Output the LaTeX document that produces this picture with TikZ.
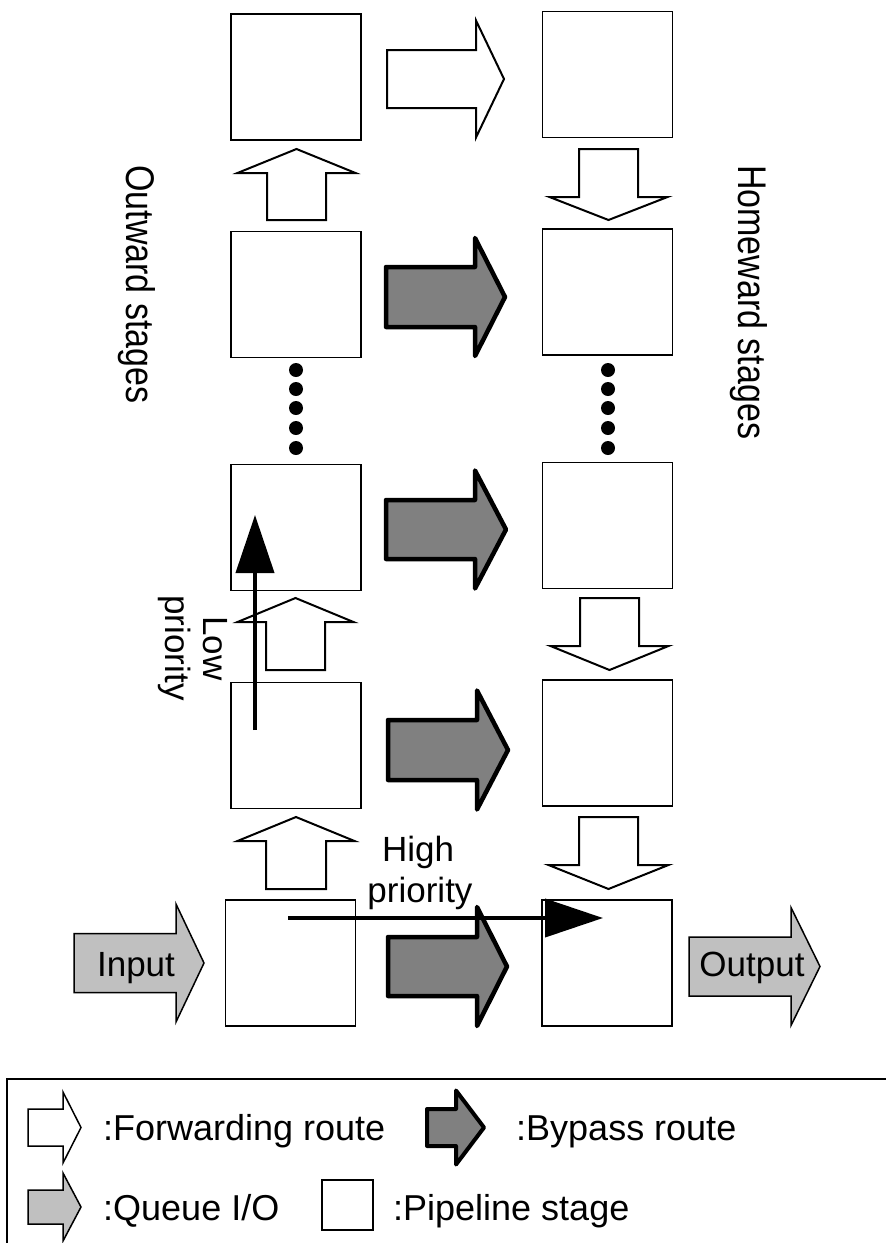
\documentclass[tikz,border=0pt]{standalone}
\usepackage{fontspec}
\usepackage{graphicx}
\setmainfont{Liberation Sans}
\usetikzlibrary{arrows.meta}
\definecolor{bypassgray}{RGB}{128,128,128}
\definecolor{queuegray}{RGB}{192,192,192}
% horizontal block arrow: style, x start, x head base, x tip, y centre, shaft half, head half
\newcommand{\blockh}[7]{\draw[#1] (#2,#5-#6) -- (#3,#5-#6) -- (#3,#5-#7) -- (#4,#5) -- (#3,#5+#7) -- (#3,#5+#6) -- (#2,#5+#6) -- cycle;}
% vertical block arrow: style, x centre, y start, y head base, y tip, shaft half, head half
\newcommand{\blockv}[7]{\draw[#1] (#2-#6,#3) -- (#2-#6,#4) -- (#2-#7,#4) -- (#2,#5) -- (#2+#7,#4) -- (#2+#6,#4) -- (#2+#6,#3) -- cycle;}
\newcommand{\narrowtext}[1]{\scalebox{0.85}[1]{#1}}
\begin{document}
\begin{tikzpicture}[x=1pt,y=-1pt,
  stage/.style={draw, line width=1.5pt, minimum width=130pt, minimum height=126pt, inner sep=0pt},
  fwd/.style={draw, fill=white, line width=2pt, line join=miter},
  fwdl/.style={draw, fill=white, line width=1.5pt, line join=miter},
  byp/.style={draw, fill=bypassgray, line width=4.5pt, line join=round},
  bypl/.style={draw, fill=bypassgray, line width=4pt, line join=round},
  qio/.style={draw, fill=queuegray, line width=1.5pt},
  prio/.style={line width=4pt, -{Triangle[length=58pt,width=38pt]}},
  lbl/.style={font=\fontsize{35}{42}\selectfont, inner sep=0pt},
  side/.style={font=\fontsize{40}{48}\selectfont, inner sep=0pt, rotate=-90, anchor=base west},
  lgd/.style={font=\fontsize{36}{43}\selectfont, inner sep=0pt, anchor=base west}]
\useasboundingbox (0,0) rectangle (886,1243);
\fill[white] (0,0) rectangle (886,1243);

% pipeline stages
\node[stage] (L1) at (296,77) {};
\node[stage] (L2) at (296,294.5) {};
\node[stage] (L3) at (296,527.5) {};
\node[stage] (L4) at (296,745.5) {};
\node[stage] (L5) at (290.5,963) {};
\node[stage] (R1) at (607.5,74.5) {};
\node[stage] (R2) at (607.5,292) {};
\node[stage] (R3) at (607.5,525.5) {};
\node[stage] (R4) at (607.5,743) {};
\node[stage] (R5) at (607,963) {};

% ellipsis dots
\foreach \yy in {370,389,408,428,448} {
  \fill (296,\yy) circle (7pt);
  \fill (608,\yy) circle (7pt);
}

% forwarding routes
\blockh{fwd}{387}{476}{504}{79}{29}{58.5}
\blockv{fwd}{296.5}{220}{173}{149}{29.5}{59}
\blockv{fwd}{295.5}{670}{622}{598}{29.5}{58}
\blockv{fwd}{296}{889}{841}{817}{30}{58.5}
\blockv{fwd}{608.5}{149}{197}{220}{29.5}{59}
\blockv{fwd}{609.5}{598}{646}{670}{29.5}{59}
\blockv{fwd}{608.5}{817}{865}{889}{29.5}{60}

% bypass routes
\blockh{byp}{386}{475}{505}{297}{30}{59}
\blockh{byp}{386}{475}{506}{529.5}{29.5}{59}
\blockh{byp}{388}{477}{508}{750}{30}{59.5}
\blockh{byp}{388}{477}{507}{966.5}{29.5}{59.5}

% queue I/O
\blockh{qio}{74}{176}{204}{963}{29.5}{59}
\blockh{qio}{689}{791}{820}{966.5}{29.5}{59}
\node[lbl, anchor=base] (inp) at (136,976) {Input};
\node[lbl, anchor=base] (outp) at (752,976) {Output};

% priority paths
\coordinate (lowA) at (255,730);
\coordinate (lowB) at (255,515);
\draw[prio] (lowA) -- (lowB);
\coordinate (highA) at (288,918);
\coordinate (highB) at (603,918);
\draw[prio] (highA) -- (highB);

% labels
\node[side] (outw) at (126,165) {\narrowtext{Outward stages}};
\node[side] (homew) at (738,165) {\narrowtext{Homeward stages}};
\node[lbl, rotate=-90, anchor=base] (lowt) at (203,648.5) {Low};
\node[lbl, rotate=-90, anchor=base] (lowp) at (165,648) {priority};
\node[lbl, anchor=base] (hight) at (418,861) {High};
\node[lbl, anchor=base] (highp) at (420,902) {priority};

% legend
\draw[line width=1.5pt] (895,1079) -- (7,1079) -- (7,1255);
\blockh{fwdl}{28}{63}{81}{1127.5}{18.5}{35.5}
\node[lgd] (lg1) at (103,1140) {:Forwarding route};
\blockh{bypl}{427}{456}{484}{1127.5}{18.5}{37}
\node[lgd] (lg2) at (516,1140) {:Bypass route};
\blockh{qio}{28}{63}{81}{1207}{17}{34}
\node[lgd] (lg3) at (103,1220) {:Queue I/O};
\node[draw, line width=1.5pt, minimum width=51pt, minimum height=50pt, inner sep=0pt] (lgbox) at (347.5,1205) {};
\node[lgd] (lg4) at (393,1220) {:Pipeline stage};
\end{tikzpicture}
\end{document}
